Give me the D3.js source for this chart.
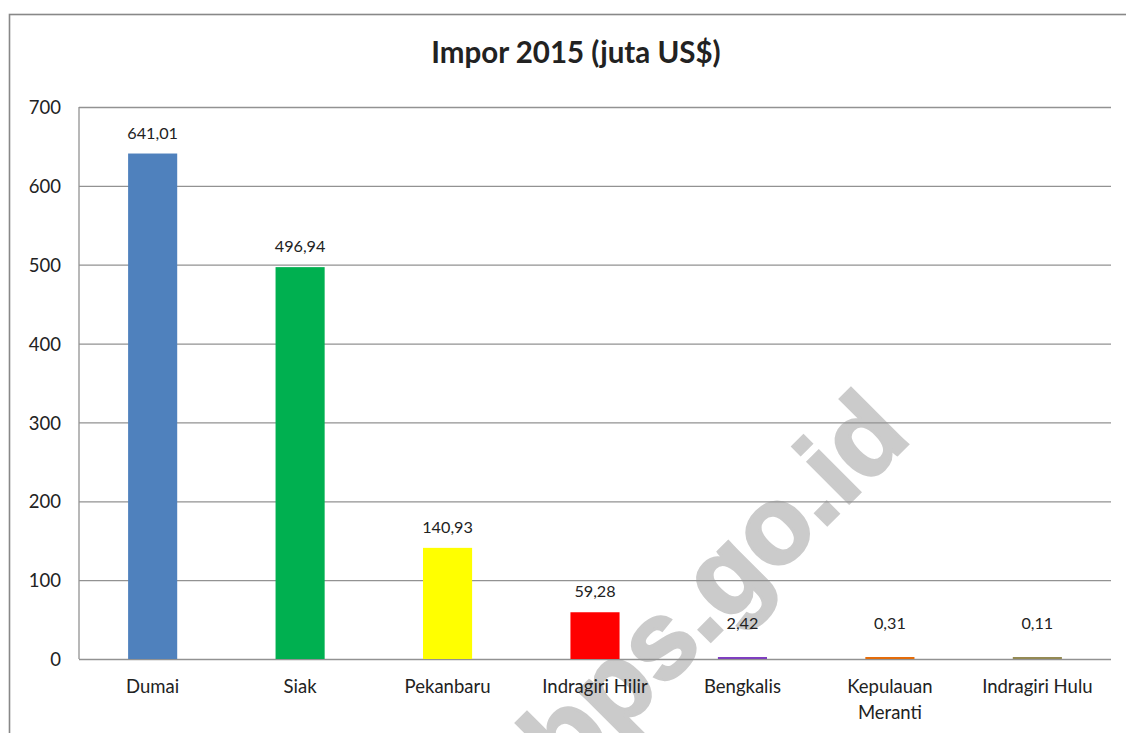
<!DOCTYPE html>
<html>
<head>
<meta charset="utf-8">
<script src="https://cdn.jsdelivr.net/npm/d3@7"></script>
<style>
    body { margin: 0; background: #fff; }
    text { font-family: Lato, "Open Sans", sans-serif; fill: #222; }
</style>
</head>
<body>
<div id="chart-area"></div>
<script>

// Impor 2015 per kabupaten/kota (juta US$)
var categories = ["Dumai", "Siak", "Pekanbaru", "Indragiri Hilir", "Bengkalis", "Kepulauan Meranti", "Indragiri Hulu"];
var values = [641.01, 496.94, 140.93, 59.28, 2.42, 0.31, 0.11];
var yTicks = [0, 100, 200, 300, 400, 500, 600, 700];
var barColors = ["#4F81BD", "#00B050", "#FFFF00", "#FF0000", "#7F3FBF", "#E46C0A", "#948A54"];

var idLocale = d3.formatLocale({decimal: ",", thousands: ".", grouping: [3], currency: ["", ""]});
var fmt = idLocale.format(".2f");

BarChart = function(_parentElement) {
    this.parentElement = _parentElement;
    this.data = categories.map(function(c, i) {
        return {text: c, size: values[i], color: barColors[i]};
    });

    this.initVis();
};

BarChart.prototype.initVis = function() {
    var vis = this;

    vis.margin = {top: 107, right: 15, bottom: 74, left: 79};
    vis.width = 1126 - vis.margin.left - vis.margin.right;
    vis.height = 733 - vis.margin.top - vis.margin.bottom;

    vis.svg = d3.select(vis.parentElement)
        .append("svg")
        .attr("width", 1126)
        .attr("height", 733);

    // outer frame (runs off the right and bottom edge)
    vis.svg.append("rect")
        .attr("x", 9.5)
        .attr("y", 14.5)
        .attr("width", 1300)
        .attr("height", 900)
        .attr("fill", "none")
        .attr("stroke", "#888")
        .attr("stroke-width", 1.6);

    // watermark sits under the grid and the labels
    vis.svg.append("text")
        .attr("transform", "translate(740,612) rotate(-45)")
        .style("text-anchor", "middle")
        .style("font-family", "'Liberation Sans', Arial, sans-serif")
        .style("font-weight", "bold")
        .style("fill", "#cbcbcb")
        .style("stroke", "#cbcbcb")
        .style("stroke-width", 3)
        .attr("font-size", "110px")
        .text("bps.go.id");

    vis.svg.append("text")
        .attr("x", 576)
        .attr("y", 63)
        .style("text-anchor", "middle")
        .style("font-weight", "bold")
        .attr("font-size", "29.5px")
        .text("Impor 2015 (juta US$)");

    vis.chart = vis.svg.append("g")
        .attr("transform", "translate(" + vis.margin.left + "," + vis.margin.top + ")");

    vis.x = d3.scaleBand()
        .range([0, vis.width])
        .paddingInner(0.667)
        .paddingOuter(0.333);

    vis.y = d3.scaleLinear()
        .range([vis.height, 0]);

    vis.updateVis();
};

BarChart.prototype.updateVis = function() {
    var vis = this;

    vis.x.domain(vis.data.map(function(d) { return d.text; }));
    vis.y.domain([0, d3.max(yTicks)]);

    // gridlines
    vis.chart.append("g")
        .attr("class", "grid")
        .call(d3.axisLeft(vis.y).tickValues(yTicks).tickSize(-vis.width).tickFormat(""))
        .call(function(g) { g.select(".domain").remove(); })
        .selectAll("line")
        .attr("stroke", "#929292")
        .attr("stroke-width", 1.3);

    vis.chart.append("line")
        .attr("x1", 0).attr("x2", 0)
        .attr("y1", 0).attr("y2", vis.height)
        .attr("stroke", "#929292")
        .attr("stroke-width", 1.3);

    vis.chart.selectAll(".bar")
        .data(vis.data)
        .enter().append("rect")
        .attr("class", "bar")
        .attr("fill", function(d) { return d.color; })
        .attr("x", function(d) { return vis.x(d.text); })
        .attr("width", vis.x.bandwidth())
        .attr("y", function(d) { return Math.min(vis.y(d.size), vis.height - 2); })
        .attr("height", function(d) { return Math.max(vis.height - vis.y(d.size), 2); });

    vis.chart.selectAll(".pcts")
        .data(vis.data)
        .enter().append("text")
        .attr("class", "pcts")
        .attr("font-size", "16.2px")
        .style("text-anchor", "middle")
        .attr("x", function(d) { return vis.x(d.text) + vis.x.bandwidth() / 2; })
        .attr("y", function(d) { return Math.min(vis.y(d.size) - 15, vis.height - 30); })
        .text(function(d) { return fmt(d.size); });

    // y axis labels
    var yAxis = vis.chart.append("g")
        .attr("class", "axis")
        .call(d3.axisLeft(vis.y).tickValues(yTicks).tickSize(0).tickPadding(18));
    yAxis.select(".domain").remove();
    yAxis.selectAll("text")
        .attr("font-size", "18.5px")
        .attr("dy", "0.36em");

    // x axis labels
    var xAxis = vis.chart.append("g")
        .attr("class", "axis")
        .attr("transform", "translate(0," + vis.height + ")")
        .call(d3.axisBottom(vis.x).tickSize(0).tickPadding(0));
    xAxis.select(".domain").remove();
    xAxis.selectAll("text")
        .attr("font-size", "18.5px")
        .attr("y", 34)
        .attr("dy", 0)
        .call(wrap, vis.x.step() * 0.95);
};

function wrap(texts, maxWidth) {
    texts.each(function() {
        var text = d3.select(this);
        var words = text.text().split(/\s+/);
        var y = text.attr("y");
        var line = [];
        var lineNo = 0;
        text.text(null);
        var tspan = text.append("tspan").attr("x", 0).attr("y", y);
        words.forEach(function(w) {
            line.push(w);
            tspan.text(line.join(" "));
            if (tspan.node().getComputedTextLength() > maxWidth && line.length > 1) {
                line.pop();
                tspan.text(line.join(" "));
                line = [w];
                lineNo++;
                tspan = text.append("tspan").attr("x", 0).attr("y", +y + lineNo * 26).text(w);
            }
        });
    });
}

var chart = new BarChart("#chart-area");

</script>
</body>
</html>
